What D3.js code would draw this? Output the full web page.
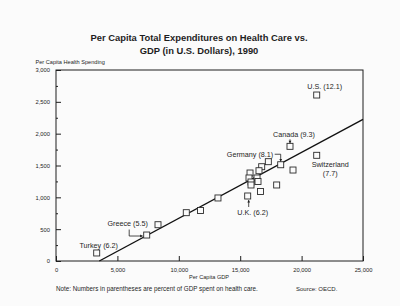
<!DOCTYPE html>
<html><head><meta charset="utf-8">
<script src="https://cdn.jsdelivr.net/npm/d3@7"></script>
<style>
html,body{margin:0;padding:0;background:#fbfbfb;}
svg{display:block;font-family:"Liberation Sans",Arial,Helvetica,sans-serif;}
</style></head>
<body>
<script>
// ---- data ----
const countries = ["U.S.","Canada","Switzerland","Germany","U.K.","Greece","Turkey",
  "","","","","","","","","","","","","","","",""];
const pctGDP = ["12.1","9.3","7.7","8.1","6.2","5.5","6.2",
  "","","","","","","","","","","","","","","",""];
const gdp = [21230,19055,21230,18298,15610,7386,3314,
  19300,17290,16750,16530,15800,15717,16370,15880,16450,15880,17970,16650,13190,11770,10610,8306];
const spending = [2607,1801,1660,1512,1021,408,126,
  1429,1560,1481,1418,1382,1304,1304,1241,1249,1194,1194,1092,990,793,759,570];
const trendX = [3526, 25000];
const trendY = [0, 2226];
const xTicks = [0,5000,10000,15000,20000,25000];
const yTicks = [0,500,1000,1500,2000,2500,3000];
const yMinorTicks = [250,750,1250,1750,2250,2750];

const W=400,H=306;
const m={left:56,right:37,top:70,bottom:45};
const svg=d3.select("body").append("svg").attr("width",W).attr("height",H);
const x=d3.scaleLinear().domain([0,25000]).range([m.left,W-m.right]);
const y=d3.scaleLinear().domain([0,3000]).range([H-m.bottom,m.top]);
const ink="#1e1e1e";
const fmt=d3.format(",");

// title
svg.append("text").attr("x",199).attr("y",40.5).attr("text-anchor","middle")
  .attr("font-weight","bold").attr("font-size",9.4).attr("fill",ink)
  .text("Per Capita Total Expenditures on Health Care vs.");
svg.append("text").attr("x",199).attr("y",53.5).attr("text-anchor","middle")
  .attr("font-weight","bold").attr("font-size",9.4).attr("fill",ink)
  .text("GDP (in U.S. Dollars), 1990");
svg.append("text").attr("x",35.5).attr("y",63.5).attr("font-size",5.6).attr("fill",ink)
  .text("Per Capita Health Spending");

// frame
svg.append("rect").attr("x",x(0)).attr("y",y(3000)).attr("width",x(25000)-x(0))
  .attr("height",y(0)-y(3000)).attr("fill","none").attr("stroke",ink).attr("stroke-width",1);

// axes
const yAxis=d3.axisLeft(y).tickValues(yTicks).tickSize(-5).tickPadding(6).tickFormat(fmt);
const gy=svg.append("g").attr("transform",`translate(${x(0)},0)`).call(yAxis);
gy.select(".domain").remove();
gy.selectAll("line").attr("stroke",ink);
gy.selectAll("text").attr("font-size",5.8).attr("fill",ink).attr("font-family","Liberation Sans,Arial,sans-serif");
const yMinor=d3.axisLeft(y).tickValues(yMinorTicks).tickSize(-2).tickFormat("");
const gym=svg.append("g").attr("transform",`translate(${x(0)},0)`).call(yMinor);
gym.select(".domain").remove();
gym.selectAll("line").attr("stroke",ink);

const xAxis=d3.axisBottom(x).tickValues(xTicks).tickSize(-5).tickPadding(7).tickFormat(fmt);
const gx=svg.append("g").attr("transform",`translate(0,${y(0)})`).call(xAxis);
gx.select(".domain").remove();
gx.selectAll("line").attr("stroke",ink);
gx.selectAll("text").attr("font-size",5.8).attr("fill",ink).attr("font-family","Liberation Sans,Arial,sans-serif");

svg.append("text").attr("x",209).attr("y",279).attr("text-anchor","middle")
  .attr("font-size",5.6).attr("fill",ink).text("Per Capita GDP");

// trend line
svg.append("line").attr("x1",x(trendX[0])).attr("y1",y(trendY[0]))
  .attr("x2",x(trendX[1])).attr("y2",y(trendY[1])).attr("stroke","#111").attr("stroke-width",1.4);

// points
const pts=gdp.map((g,i)=>({g,s:spending[i],c:countries[i],p:pctGDP[i]}));
svg.append("g").selectAll("rect").data(pts).join("rect")
  .attr("x",d=>x(d.g)-3).attr("y",d=>y(d.s)-3).attr("width",6).attr("height",6)
  .attr("fill","#fbfbfb").attr("stroke","#2a2a2a").attr("stroke-width",0.9);

// annotations (offsets relative to the point)
const ann={
  "U.S.":{dx:8,dy:-6.5,anchor:"middle"},
  "Canada":{dx:4,dy:-9.5,anchor:"middle",arrow:"M0,-7V-3"},
  "Germany":{dx:-7.5,dy:-8,anchor:"end",arrow:"M-6,-10.5H0V-3.2"},
  "Switzerland":{dx:13.5,dy:11.2,anchor:"middle",two:true},
  "U.K.":{dx:5,dy:19,anchor:"middle",arrow:"M1,11V4"},
  "Greece":{dx:-19,dy:-8.7,anchor:"middle",arrow:"M-17.5,-5.5V1H-4"},
  "Turkey":{dx:2,dy:-5,anchor:"middle"}
};
const ag=svg.append("g").attr("fill",ink).attr("font-size",7.2);
pts.filter(d=>d.c).forEach(d=>{
  const a=ann[d.c]; const px=x(d.g), py=y(d.s);
  if(a.two){
    ag.append("text").attr("x",px+a.dx).attr("y",py+a.dy).attr("text-anchor",a.anchor).text(d.c);
    ag.append("text").attr("x",px+a.dx).attr("y",py+a.dy+9).attr("text-anchor",a.anchor).text(`(${d.p})`);
  } else {
    ag.append("text").attr("x",px+a.dx).attr("y",py+a.dy).attr("text-anchor",a.anchor).text(`${d.c} (${d.p})`);
  }
  if(a.arrow){
    const gg=svg.append("g").attr("transform",`translate(${px},${py})`);
    gg.append("path").attr("d",a.arrow).attr("fill","none").attr("stroke",ink).attr("stroke-width",0.8);
    const nums=a.arrow.match(/[A-Z][^A-Z]*/g);
    let cx=0,cy=0,prevx=0,prevy=0;
    nums.forEach(seg=>{
      const t=seg[0]; const v=seg.slice(1).split(",").map(Number);
      prevx=cx;prevy=cy;
      if(t==="M"){cx=v[0];cy=v[1];}
      else if(t==="H"){cx=v[0];}
      else if(t==="V"){cy=v[0];}
    });
    const ang=Math.atan2(cy-prevy,cx-prevx);
    const L=2.6,Wd=1.4;
    const bx=cx-L*Math.cos(ang), by=cy-L*Math.sin(ang);
    gg.append("path").attr("d",`M${cx},${cy}L${bx-Wd*Math.sin(ang)},${by+Wd*Math.cos(ang)}L${bx+Wd*Math.sin(ang)},${by-Wd*Math.cos(ang)}Z`)
      .attr("fill",ink);
  }
});

// footnotes
svg.append("text").attr("x",56).attr("y",291).attr("font-size",6.3).attr("fill",ink)
  .text("Note: Numbers in parentheses are percent of GDP spent on health care.");
svg.append("text").attr("x",296).attr("y",291).attr("font-size",6).attr("fill",ink)
  .text("Source: OECD.");
</script>
</body></html>
